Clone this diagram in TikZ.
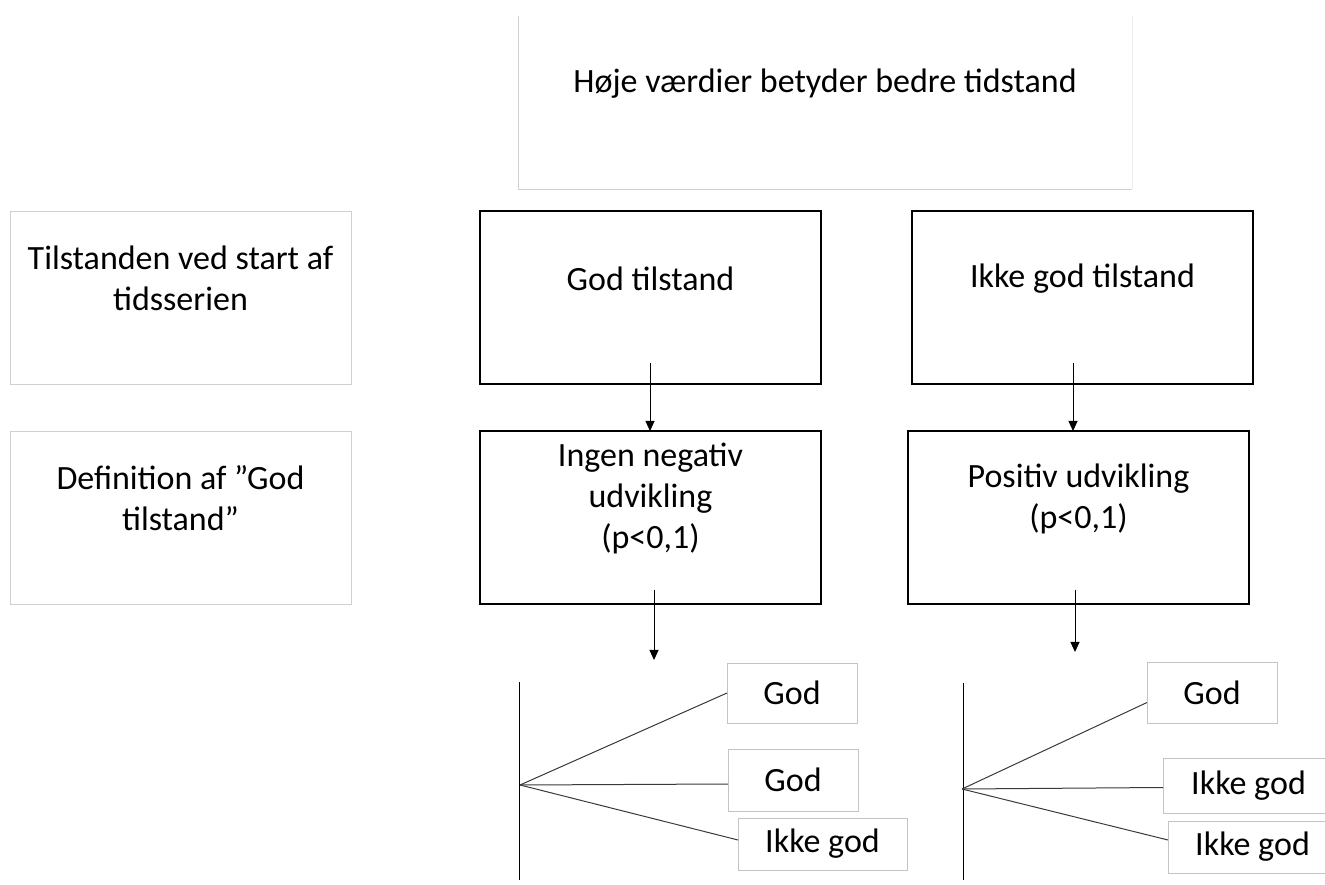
\documentclass[tikz,border=0pt]{standalone}
\usepackage{fontspec}
\setmainfont{Carlito}
\usepackage{xcolor}
\usepackage{tikz}
\usetikzlibrary{
arrows.meta,
positioning
}

\definecolor{faint}{HTML}{D0D0D0}
\definecolor{fainter}{HTML}{EBEBEB}
\definecolor{tagline}{HTML}{C4C4C4}
\definecolor{fanline}{HTML}{3A3A3A}

\begin{document}
\begin{tikzpicture}[
x=1pt,y=1pt,
font=\fontsize{34}{41}\selectfont,
box/.style={
draw,
line width=1.5pt,
minimum width=341pt,
minimum height=173pt,
inner sep=0pt,
outer sep=0pt
},
greybox/.style={
box,
draw=faint,
line width=0.8pt
},
boxtext/.style={align=center,yshift=19pt},
tag/.style={
draw=tagline,
line width=0.8pt,
minimum height=60pt,
inner sep=0pt,
outer sep=0pt
},
arrow/.style={-{Triangle[length=10pt,width=9pt]},line width=0.9pt},
fan/.style={draw=fanline,line width=1pt},
axis/.style={line width=0.9pt}
]

\useasboundingbox (0,0) rectangle (1325,884);
\clip (0,0) rectangle (1325,884);

% header
\node[minimum width=614pt,minimum height=173pt,inner sep=0pt,outer sep=0pt] (scale) at (825,781.5) {};
\node[boxtext] (scale-t) at (scale.center) {Høje værdier betyder bedre tidstand};
\draw[faint,line width=0.8pt] (scale.north west) -- (scale.south west) -- (scale.south east);
\draw[fainter,line width=0.8pt] (scale.south east) -- (scale.north east);

% row labels
\node[greybox] (state) at (180.5,586.5) {};
\node[boxtext] (state-t) at (state.center) {Tilstanden ved start af\\tidsserien};

\node[greybox,below=47pt of state] (defn) {};
\node[boxtext] (defn-t) at (defn.center) {Definition af ”God\\tilstand”};

% start state
\node[box,right=129pt of state] (good) {};
\node[boxtext] (good-t) at (good.center) {God tilstand};

\node[box,right=91pt of good] (notgood) {};
\node[boxtext] (notgood-t) at (notgood.center) {Ikke god tilstand};

% definition
\node[box,below=47pt of good] (nonneg) {};
\node[boxtext] (nonneg-t) at (nonneg.center) {Ingen negativ\\udvikling\\(p<0,1)};

\node[box,below=47pt of notgood,xshift=-4pt] (posdev) {};
\node[boxtext] (posdev-t) at (posdev.center) {Positiv udvikling\\(p<0,1)};

\draw[arrow] ([xshift=-0.5pt,yshift=21pt]good.south) -- ([xshift=-0.5pt]nonneg.north);
\draw[arrow] ([xshift=-9.5pt,yshift=21pt]notgood.south) -- ([xshift=-5.5pt]posdev.north);

\coordinate (outL) at ([xshift=3.5pt,yshift=-56pt]nonneg.south);
\coordinate (outR) at ([xshift=-3.5pt,yshift=-48pt]posdev.south);
\draw[arrow] ([xshift=3.5pt,yshift=14pt]nonneg.south) -- (outL);
\draw[arrow] ([xshift=-3.5pt,yshift=14pt]posdev.south) -- (outR);

% left outcome fan
\coordinate (axisLtop) at (519,202);
\coordinate (axisLbot) at (519,4);
\coordinate (hubL) at (520,99);
\draw[axis] (axisLtop) -- (axisLbot);

\node[tag,minimum width=130pt] (godA) at (792,191) {God};
\node[tag,minimum width=130pt,minimum height=62pt] (godB) at (793,104) {God};
\node[tag,minimum width=169pt,minimum height=52pt] (ikkeA) at (822.5,40) {Ikke god};

\draw[fan] (hubL) -- (godA.west);
\draw[fan] (hubL) -- ([yshift=-4pt]godB.west);
\draw[fan] (hubL) -- ([yshift=4pt]ikkeA.west);

% right outcome fan
\coordinate (axisRtop) at (963,201);
\coordinate (axisRbot) at (963,4);
\coordinate (hubR) at (962,95);
\draw[axis] (axisRtop) -- (axisRbot);

\node[tag,minimum width=130pt,minimum height=61pt] (godC) at (1212,191.5) {God};
\node[tag,minimum width=171pt,minimum height=55pt] (ikkeB) at (1248.5,98.5) {Ikke god};
\node[tag,minimum width=169pt,minimum height=52pt] (ikkeC) at (1252.5,37) {Ikke god};

\draw[fan] (hubR) -- ([yshift=-10pt]godC.west);
\draw[fan] (hubR) -- ([yshift=-2pt]ikkeB.west);
\draw[fan] (hubR) -- ([yshift=7pt]ikkeC.west);

\end{tikzpicture}
\end{document}
